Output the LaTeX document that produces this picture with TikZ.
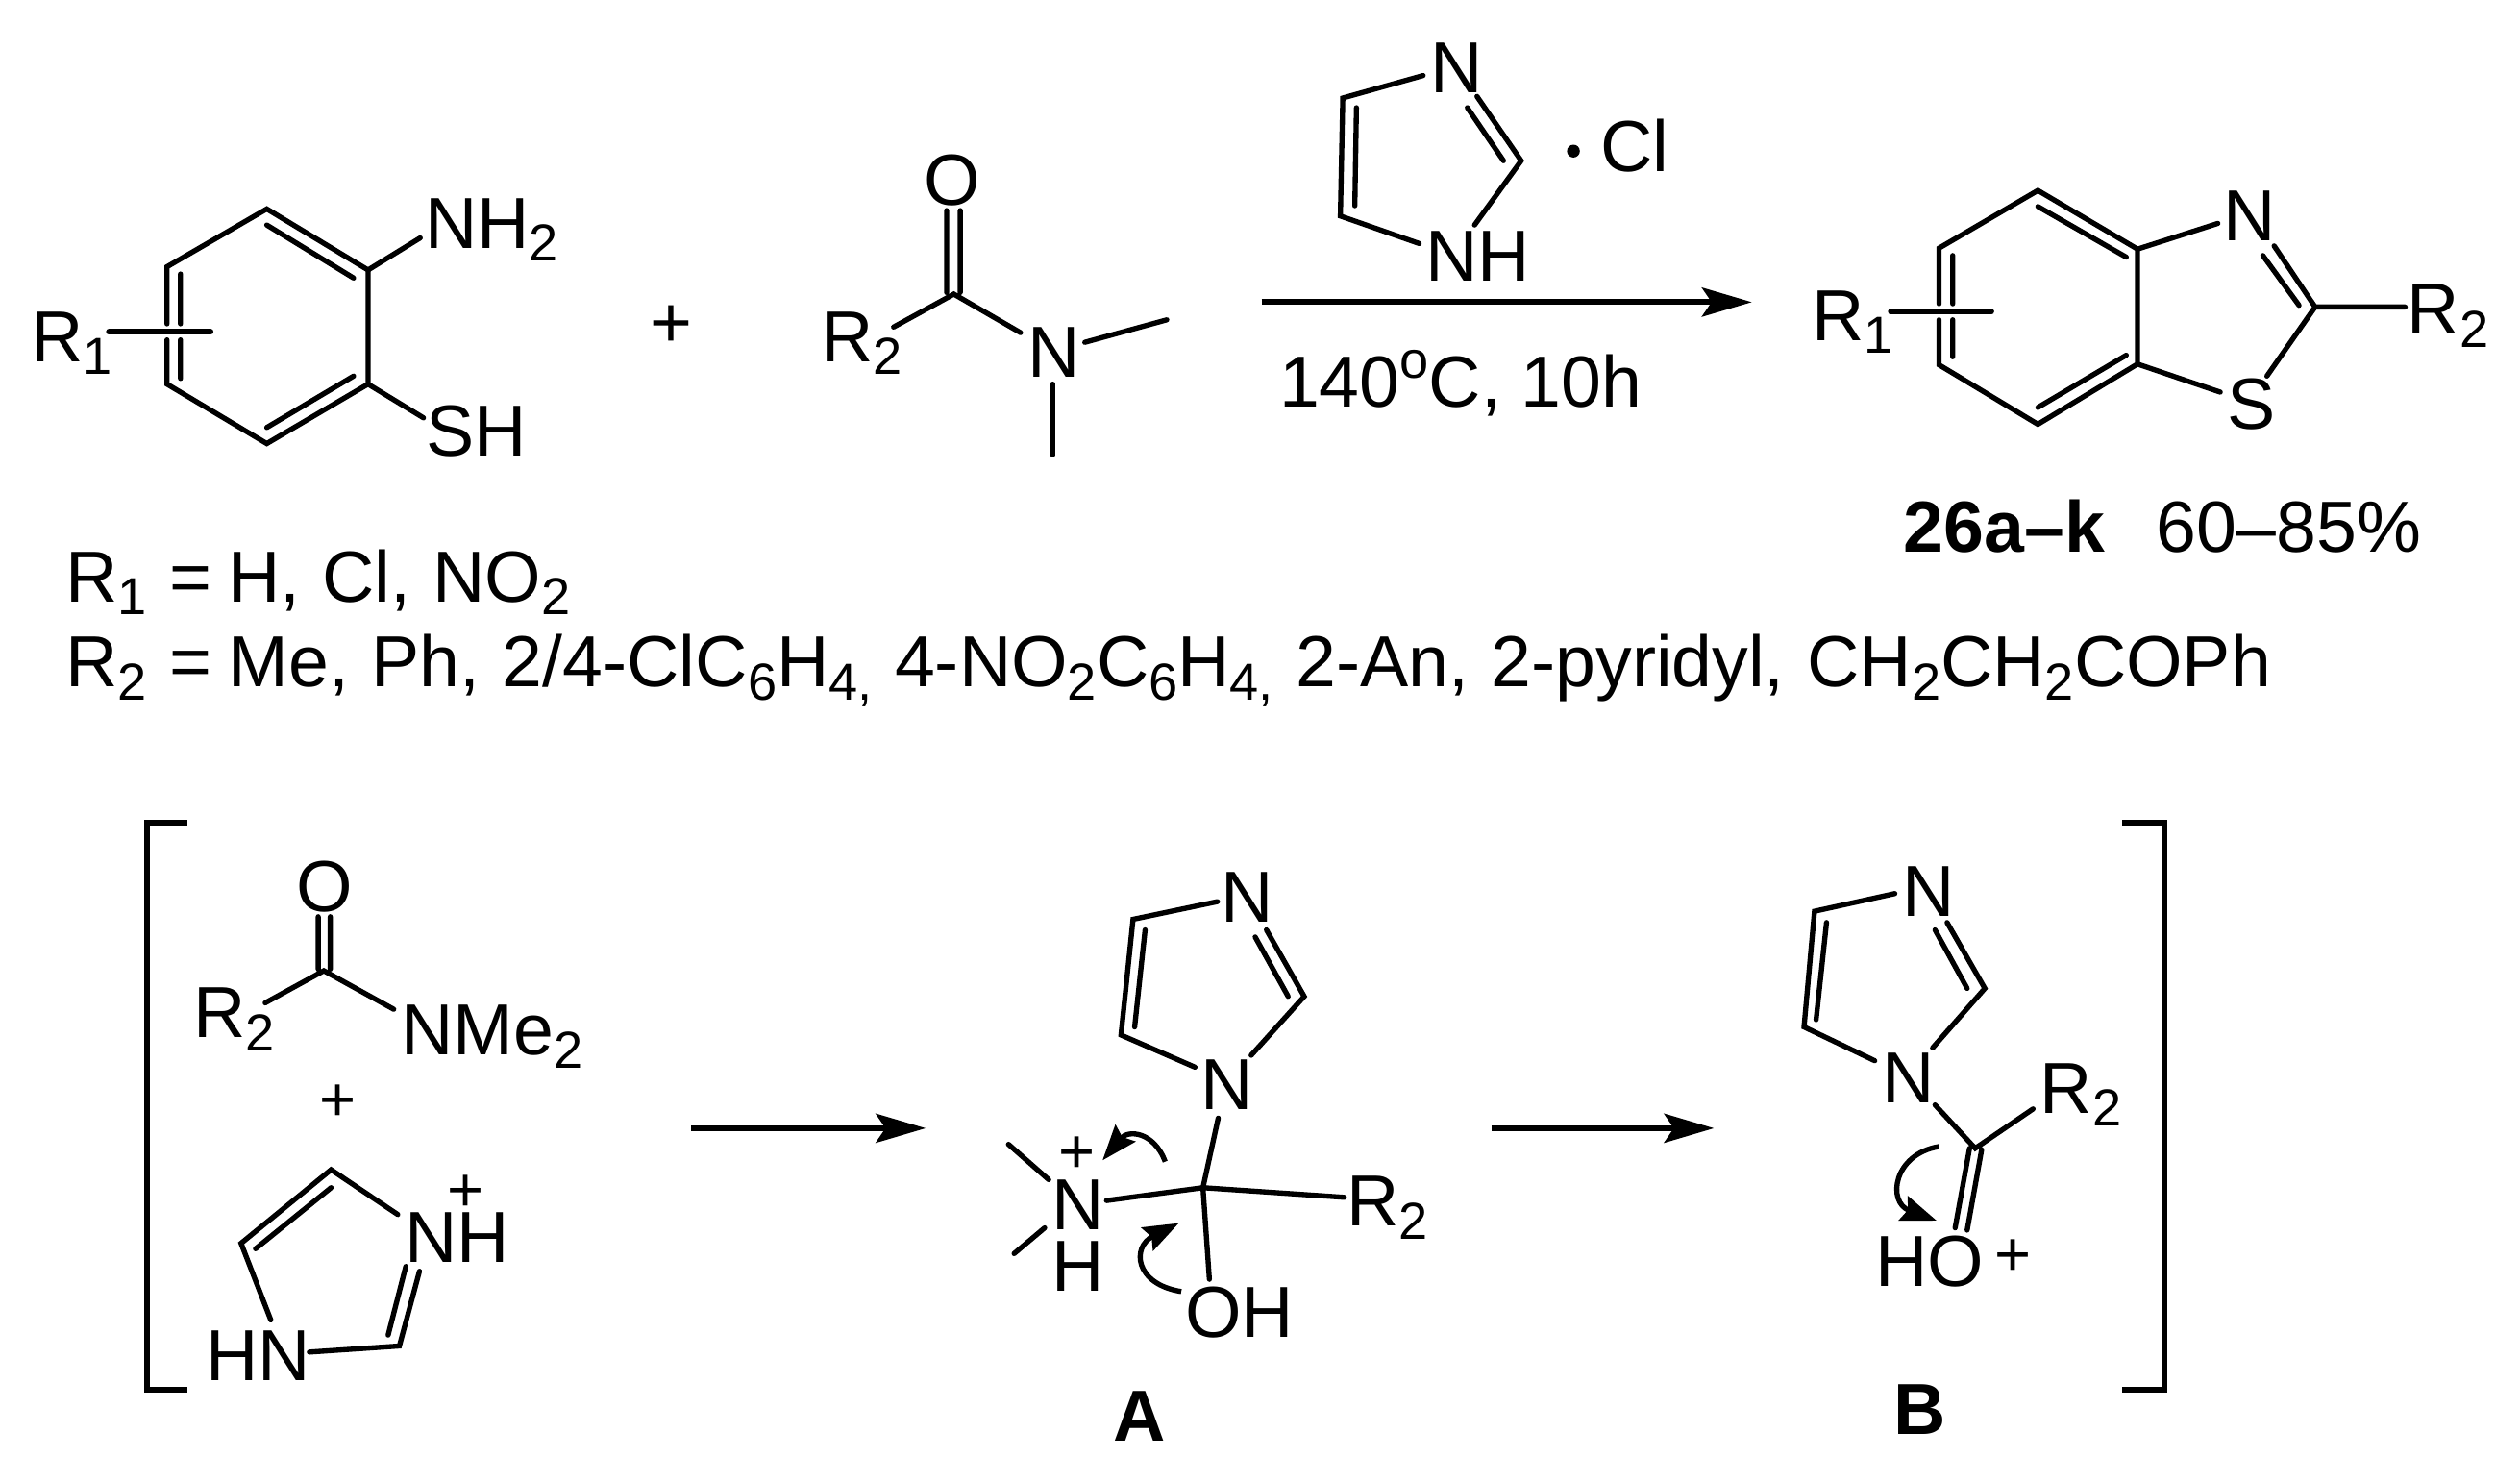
\documentclass[tikz,border=0pt]{standalone}
\usepackage{fontspec}
\setmainfont{Liberation Sans}
\usetikzlibrary{arrows.meta}
\newcommand{\sbs}[1]{\raisebox{-4pt}{\fontsize{16.2pt}{17pt}\selectfont #1}}
\newcommand{\sps}[1]{\raisebox{9.2pt}{\fontsize{16.2pt}{17pt}\selectfont #1}}
\tikzset{
  lab/.style={anchor=base west,inner sep=0pt,outer sep=0pt,font=\fontsize{22.5pt}{26pt}\selectfont},
  labc/.style={lab,anchor=base},
  chg/.style={anchor=base,inner sep=0pt,outer sep=0pt,font=\fontsize{19.5pt}{22pt}\selectfont},
  bond/.style={line width=1.6pt,line cap=round,line join=miter},
  cross/.style={line width=1.8pt,line cap=round},
  bracket/.style={line width=1.8pt,line cap=butt,line join=miter},
  rxn/.style={line width=1.75pt,-{Stealth[length=15.5pt,width=9pt,inset=3pt]}},
  curly/.style={line width=1.6pt,-{Stealth[length=11pt,width=8pt,inset=1.5pt]}},
}
\begin{document}
\begin{tikzpicture}[x=0.5pt,y=-0.5pt]
\useasboundingbox (0,0) rectangle (1568,922);
% ---- reactant 1
\coordinate (a1) at (166,130); \coordinate (a2) at (229,168); \coordinate (a3) at (229,239);
\coordinate (a4) at (166,276); \coordinate (a5) at (103.9,239); \coordinate (a6) at (103.9,166);
\coordinate (a5g) at (103.9,211.5); \coordinate (a6g) at (103.9,201.5);
\coordinate (a1i) at (166,140); \coordinate (a2i) at (220,173); \coordinate (a3i) at (220,234); \coordinate (a4i) at (166,266);
\coordinate (a6i) at (112.3,170.5); \coordinate (a6j) at (112.3,201.5); \coordinate (a5j) at (112.3,211.5); \coordinate (a5i) at (112.3,235.5);
\coordinate (a7) at (67.8,206.5); \coordinate (a8) at (131,206.5);
\coordinate (a9) at (261.5,148); \coordinate (a10) at (263.5,260);
\draw[bond] (a5g)--(a5)--(a4)--(a3)--(a2)--(a1)--(a6)--(a6g);
\draw[bond] (a1i)--(a2i) (a3i)--(a4i) (a6i)--(a6j) (a5j)--(a5i) (a2)--(a9) (a3)--(a10);
\draw[cross] (a7)--(a8);
\node[lab] (nh2) at (264.5,154.4) {NH\sbs{2}};
\node[lab] (sh) at (265,283.5) {SH};
\node[lab] (r1a) at (19.5,225) {R\sbs{1}};
\node[labc] (plus1) at (417.5,216) {+};
% ---- reactant 2
\node[labc] (oa) at (592.5,127.5) {O};
\coordinate (b0) at (593.5,183); \coordinate (b1) at (589,131); \coordinate (b2) at (589,182);
\coordinate (b3) at (597.5,131); \coordinate (b4) at (597.5,182);
\coordinate (b5) at (556,203.5); \coordinate (b6) at (635,207);
\coordinate (b7) at (675,213); \coordinate (b8) at (726,199); \coordinate (b9) at (655,239); \coordinate (b10) at (655,283);
\draw[bond] (b1)--(b2) (b3)--(b4) (b5)--(b0)--(b6) (b7)--(b8) (b9)--(b10);
\node[lab] (na) at (639.5,235) {N};
\node[lab] (r2a) at (511,225) {R\sbs{2}};
% ---- R definitions
\node[lab] (defa) at (41,374.4) {\spaceskip=6.9pt R\sbs{1} = \hspace{-1.8pt}H, Cl, NO\sbs{2}};
\node[lab] (defb) at (41,427.4) {\spaceskip=7pt R\sbs{2} = \hspace{-1.8pt}Me, Ph, 2/4-ClC\sbs{6}H\sbs{4,} 4-NO\sbs{2}C\sbs{6}H\sbs{4,} 2-An, 2-pyridyl, CH\sbs{2}CH\sbs{2}COPh};
% ---- catalyst
\coordinate (c1) at (885.5,47); \coordinate (c2) at (835.5,61); \coordinate (c3) at (834,134.4); \coordinate (c4) at (883,151.5);
\coordinate (c5) at (844,67); \coordinate (c6) at (843,128);
\coordinate (c7) at (919,60); \coordinate (c8) at (946.5,100); \coordinate (c9) at (913,67); \coordinate (c10) at (935.5,100); \coordinate (c11) at (917.5,140);
\draw[bond] (c1)--(c2)--(c3)--(c4) (c5)--(c6) (c7)--(c8)--(c11) (c9)--(c10);
\node[lab] (nc) at (890,58) {N};
\node[lab] (nhc) at (887,175) {NH};
\node[circle,fill=black,inner sep=0pt,minimum size=4pt] (dot) at (979,94) {};
\node[lab] (cl) at (996,106.5) {Cl};
% ---- main arrow
\coordinate (r1) at (785,188); \coordinate (r2) at (1090,188);
\draw[rxn] (r1)--(r2);
\node[lab] (cond) at (796,253.5) {140\sps{o}C, 10h};
% ---- product
\coordinate (p1) at (1268,118.5); \coordinate (p2) at (1330,155); \coordinate (p3) at (1330,226.5);
\coordinate (p4) at (1268,264); \coordinate (p5) at (1206.5,227); \coordinate (p6) at (1206.5,154.4);
\coordinate (p5g) at (1206.5,199); \coordinate (p6g) at (1206.5,189);
\coordinate (p1i) at (1268,128.5); \coordinate (p2i) at (1323,160); \coordinate (p3i) at (1323,221); \coordinate (p4i) at (1268,253.5);
\coordinate (p6i) at (1215,159); \coordinate (p6j) at (1215,189); \coordinate (p5j) at (1215,199); \coordinate (p5i) at (1215,222);
\coordinate (p7) at (1176.5,194); \coordinate (p8) at (1239,194);
\coordinate (p9) at (1380,139); \coordinate (p10) at (1381.5,244);
\coordinate (p11) at (1440.5,191); \coordinate (p12) at (1415,153); \coordinate (p13) at (1408,159); \coordinate (p14) at (1430.5,190);
\coordinate (p15) at (1410.5,234); \coordinate (p16) at (1496.5,191);
\draw[bond] (p5g)--(p5)--(p4)--(p3)--(p2)--(p1)--(p6)--(p6g);
\draw[bond] (p1i)--(p2i) (p3i)--(p4i) (p6i)--(p6j) (p5j)--(p5i) (p2)--(p9) (p3)--(p10);
\draw[cross] (p7)--(p8);
\draw[bond] (p12)--(p11)--(p15) (p13)--(p14) (p11)--(p16);
\node[lab] (r1p) at (1127.5,212) {R\sbs{1}};
\node[lab] (np) at (1383.5,150) {N};
\node[lab] (sp) at (1386,267) {S};
\node[lab] (r2p) at (1498,208) {R\sbs{2}};
\node[lab] (prod) at (1184.5,343.5) {\textbf{26a–k}};
\node[lab] (yld) at (1341.5,343.5) {60–85\%};
% ---- brackets
\coordinate (l1) at (116.5,512); \coordinate (l2) at (91.5,512); \coordinate (l3) at (91.5,865); \coordinate (l4) at (116.5,865);
\coordinate (l5) at (1320.5,512); \coordinate (l6) at (1346.5,512); \coordinate (l7) at (1346.5,865); \coordinate (l8) at (1320.5,865);
\draw[bracket] (l1)--(l2)--(l3)--(l4);
\draw[bracket] (l5)--(l6)--(l7)--(l8);
% ---- amide in bracket
\node[labc] (od) at (202,567) {O};
\coordinate (d0) at (201.5,604); \coordinate (d1) at (198,570.4); \coordinate (d2) at (198,603);
\coordinate (d3) at (205.5,570.4); \coordinate (d4) at (205.5,603); \coordinate (d5) at (165,624); \coordinate (d6) at (245,628);
\draw[bond] (d1)--(d2) (d3)--(d4) (d5)--(d0)--(d6);
\node[lab] (r2d) at (120.5,645.7) {R\sbs{2}};
\node[lab] (nme) at (249.5,656.6) {NMe\sbs{2}};
\node[chg] (plus2) at (210,697.3) {+};
% ---- imidazolium
\coordinate (e1) at (206,727.8); \coordinate (e2) at (150,773.6); \coordinate (e3) at (168.5,821.3);
\coordinate (e4) at (206,739); \coordinate (e5) at (159,777); \coordinate (e6) at (247.5,755.7);
\coordinate (e7) at (192.5,841.3); \coordinate (e8) at (248.5,837.5); \coordinate (e9) at (261,791);
\coordinate (e10) at (241.5,830.7); \coordinate (e11) at (252.5,788);
\draw[bond] (e3)--(e2)--(e1)--(e6) (e4)--(e5) (e7)--(e8)--(e9) (e10)--(e11);
\node[lab] (nhe) at (252,785.4) {NH};
\node[chg] (pluse) at (290,753.5) {+};
\node[lab] (hne) at (128,859) {HN};
% ---- arrows
\coordinate (s1) at (430,702); \coordinate (s2) at (576,702);
\coordinate (s3) at (928,702); \coordinate (s4) at (1066.5,702);
\draw[rxn] (s1)--(s2);
\draw[rxn] (s3)--(s4);
% ---- intermediate A
\coordinate (f1) at (757.5,561); \coordinate (f2) at (705,572); \coordinate (f3) at (697.5,644); \coordinate (f4) at (743.5,664);
\coordinate (f5) at (712.5,578.6); \coordinate (f6) at (706,639);
\coordinate (f7) at (788,578.6); \coordinate (f8) at (811.5,620); \coordinate (f9) at (781,583); \coordinate (f10) at (801.5,620); \coordinate (f11) at (778.5,656.6);
\coordinate (f12) at (758,695.7); \coordinate (f13) at (748.5,739); \coordinate (f14) at (688.5,747); \coordinate (f15) at (836.5,745); \coordinate (f16) at (752.5,796);
\coordinate (f17) at (627.5,712); \coordinate (f18) at (652.5,734); \coordinate (f19) at (631,780); \coordinate (f20) at (650,764);
\draw[bond] (f1)--(f2)--(f3)--(f4) (f5)--(f6) (f7)--(f8)--(f11) (f9)--(f10);
\draw[bond] (f12)--(f13)--(f16) (f14)--(f13)--(f15) (f17)--(f18) (f19)--(f20);
\node[lab] (nf1) at (759.5,574) {N};
\node[lab] (nf2) at (747,690.4) {N};
\node[lab] (nf3) at (654.5,765.4) {N};
\node[lab] (hf) at (654.5,803.6) {H};
\node[chg] (plusf) at (670,729.7) {+};
\node[lab] (ohf) at (737.5,832) {OH};
\node[lab] (r2f) at (838,763) {R\sbs{2}};
\node[labc] (la) at (709,897) {\textbf{A}};
\coordinate (g1) at (725,722.8); \coordinate (g2) at (686,722);
\coordinate (g3) at (735,803.6); \coordinate (g4) at (733.5,761);
\draw[curly] (g1) .. controls (718,704) and (702,703) .. (g2);
\draw[curly] (g3) .. controls (706,799) and (704,776) .. (g4);
% ---- intermediate B
\coordinate (h1) at (1179,556); \coordinate (h2) at (1129,567); \coordinate (h3) at (1122.5,639); \coordinate (h4) at (1166.5,660);
\coordinate (h5) at (1136.5,574); \coordinate (h6) at (1130,634.5);
\coordinate (h7) at (1211.5,574); \coordinate (h8) at (1235,615); \coordinate (h9) at (1204,578.6); \coordinate (h10) at (1224,615); \coordinate (h11) at (1202.5,652);
\coordinate (h12) at (1204,687.5); \coordinate (h13) at (1229,714.5); \coordinate (h14) at (1265,690);
\coordinate (h15) at (1225.5,714.5); \coordinate (h16) at (1216.5,764); \coordinate (h17) at (1233,715.4); \coordinate (h18) at (1224,765.4);
\draw[bond] (h1)--(h2)--(h3)--(h4) (h5)--(h6) (h7)--(h8)--(h11) (h9)--(h10);
\draw[bond] (h12)--(h13)--(h14) (h15)--(h16) (h17)--(h18);
\node[lab] (nh1) at (1183.5,570) {N};
\node[lab] (nh3) at (1171,686) {N};
\node[lab] (r2h) at (1269.5,692.8) {R\sbs{2}};
\node[lab] (hoh) at (1167,800.7) {HO};
\node[chg] (plush) at (1252.5,793.7) {+};
\node[labc] (lb) at (1194.5,892.5) {\textbf{B}};
\coordinate (i1) at (1206.5,713.4); \coordinate (i2) at (1205,759.5);
\draw[curly] (i1) .. controls (1178,718) and (1174,748) .. (i2);
\end{tikzpicture}
\end{document}
